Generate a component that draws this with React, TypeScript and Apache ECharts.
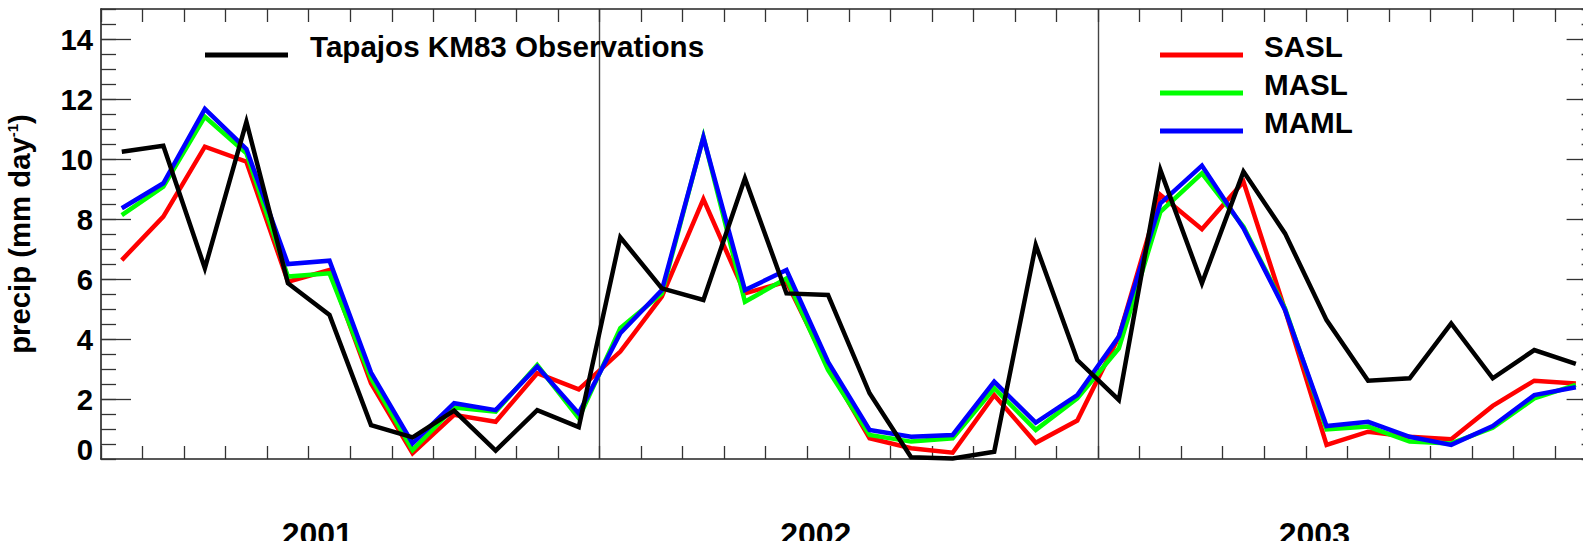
import React, { useEffect, useRef } from 'react';
import * as echarts from 'echarts';

const years = ['2001', '2002', '2003'];
const monthNames = ['Jan', 'Feb', 'Mar', 'Apr', 'May', 'Jun', 'Jul', 'Aug', 'Sep', 'Oct', 'Nov', 'Dec'];
const months = years.flatMap((y) => monthNames.map((m) => `${m} ${y}`));

const obsName = 'Tapajos KM83 Observations';
const modelNames = ['SASL', 'MASL', 'MAML'];

const obs = [10.24, 10.44, 6.36, 11.24, 5.86, 4.8, 1.13, 0.72, 1.61, 0.28, 1.63, 1.06,
  7.39, 5.69, 5.3, 9.36, 5.52, 5.47, 2.19, 0.06, 0.02, 0.24, 7.13, 3.3,
  1.97, 9.63, 5.86, 9.58, 7.52, 4.63, 2.61, 2.69, 4.52, 2.69, 3.63, 3.17];
const sasl = [6.63, 8.08, 10.41, 9.91, 5.91, 6.3, 2.52, 0.19, 1.47, 1.24, 2.86, 2.32,
  3.58, 5.41, 8.66, 5.52, 5.91, 3.08, 0.69, 0.36, 0.21, 2.13, 0.54, 1.28,
  4.08, 8.8, 7.66, 9.24, 4.97, 0.47, 0.91, 0.74, 0.66, 1.77, 2.61, 2.52];
const masl = [8.13, 9.08, 11.41, 10.19, 6.08, 6.19, 2.69, 0.3, 1.72, 1.58, 3.13, 1.36,
  4.36, 5.52, 10.74, 5.24, 6.02, 2.97, 0.8, 0.58, 0.69, 2.36, 0.97, 2.02,
  3.69, 8.24, 9.52, 7.74, 5.02, 0.99, 1.08, 0.58, 0.52, 1.04, 2.02, 2.47];
const maml = [8.36, 9.19, 11.67, 10.33, 6.5, 6.61, 2.88, 0.52, 1.86, 1.63, 3.08, 1.52,
  4.19, 5.63, 10.72, 5.63, 6.3, 3.24, 0.97, 0.74, 0.8, 2.58, 1.21, 2.13,
  4.08, 8.52, 9.78, 7.69, 4.97, 1.1, 1.24, 0.74, 0.47, 1.1, 2.13, 2.39];

const yMajorTicks = [2, 4, 6, 8, 10, 12, 14];
const yTickLabels = [0, 2, 4, 6, 8, 10, 12, 14];

const FONT = '"Liberation Sans", Arial, Helvetica, sans-serif';
const AXIS_COLOR = '#222';
const TICK_COLOR = '#333';
// legend icon: a thick line drawn in the lower part of the icon box, so the text sits above it
const LEGEND_ICON = 'path://M0,0 L83,0 L83,0.01 L0,0.01 Z M0,17 L83,17 L83,22 L0,22 Z';

export default function App() {
  const ref = useRef<HTMLDivElement>(null);

  useEffect(() => {
    if (!ref.current) return;
    const chart = echarts.init(ref.current, undefined, { renderer: 'svg' });

    const tickStyle = { color: TICK_COLOR, width: 1.3 };
    const lineAxis = { show: true, onZero: false, lineStyle: { color: AXIS_COLOR, width: 1.6 } };
    const yBase = { type: 'value', min: 0, max: 15, splitLine: { show: false } };
    const boldText = { fontFamily: FONT, fontWeight: 'bold', color: '#000' };

    const mkSeries = (name: string, data: number[], color: string) => ({
      name,
      type: 'line',
      data,
      xAxisIndex: 0,
      yAxisIndex: 0,
      symbol: 'none',
      color,
      lineStyle: { color, width: 4.5, join: 'miter', cap: 'butt' },
    });

    const legendBase = {
      orient: 'vertical',
      icon: LEGEND_ICON,
      itemWidth: 83,
      itemHeight: 22,
      itemGap: 8,
      padding: 0,
      selectedMode: false,
      top: 31.5,
    };

    chart.setOption({
      animation: false,
      backgroundColor: '#ffffff',
      grid: { left: 101, top: 9, right: -13.6, bottom: 82, outerBoundsMode: 'none', containLabel: false },
      legend: [
        {
          ...legendBase,
          data: [obsName],
          left: 205,
          textStyle: { ...boldText, fontSize: 29.6, padding: [0, 0, 0, 17] },
        },
        {
          ...legendBase,
          data: modelNames,
          left: 1160,
          textStyle: { ...boldText, fontSize: 29.6, padding: [0, 0, 0, 16] },
        },
      ],
      xAxis: [
        {
          type: 'category',
          data: months,
          position: 'bottom',
          boundaryGap: true,
          axisLine: lineAxis,
          axisTick: { show: true, inside: true, length: 13, interval: 0, lineStyle: tickStyle },
          axisLabel: { show: false },
          splitLine: {
            show: true,
            interval: (i: number) => i > 0 && i % 12 === 0,
            lineStyle: { color: '#444', width: 1.4 },
          },
        },
        {
          type: 'category',
          data: months,
          position: 'top',
          boundaryGap: true,
          axisLine: lineAxis,
          axisTick: { show: true, inside: true, length: 13, interval: 0, lineStyle: tickStyle },
          axisLabel: { show: false },
          splitLine: { show: false },
        },
        {
          type: 'category',
          data: years,
          position: 'bottom',
          boundaryGap: true,
          axisLine: { show: false, onZero: false },
          axisTick: { show: false },
          axisLabel: { ...boldText, fontSize: 32, margin: 59, interval: 0, padding: [0, 66, 0, 0] },
          splitLine: { show: false },
        },
      ],
      yAxis: [
        {
          ...yBase,
          position: 'left',
          axisLine: lineAxis,
          axisTick: { show: true, inside: true, length: 30, customValues: yMajorTicks, lineStyle: tickStyle },
          axisLabel: {
            ...boldText,
            fontSize: 29.3,
            margin: 8,
            customValues: yTickLabels,
            formatter: (v: number) => (v === 0 ? '{zero|0}' : String(v)),
            rich: { zero: { ...boldText, fontSize: 29.3, padding: [0, 0, 20, 0] } },
          },
          name: 'precip (mm day{sup|-1})',
          nameLocation: 'middle',
          nameRotate: 90,
          nameGap: 67,
          nameTextStyle: {
            ...boldText,
            fontSize: 29.3,
            rich: { sup: { ...boldText, fontSize: 15, verticalAlign: 'top', lineHeight: 15 } },
          },
        },
        {
          ...yBase,
          position: 'left',
          interval: 0.5,
          axisLine: { show: false, onZero: false },
          axisTick: { show: true, inside: true, length: 15, lineStyle: tickStyle },
          axisLabel: { show: false },
        },
        {
          ...yBase,
          position: 'right',
          axisLine: lineAxis,
          axisTick: { show: true, inside: true, length: 30, customValues: yMajorTicks, lineStyle: tickStyle },
          axisLabel: { show: false },
        },
        {
          ...yBase,
          position: 'right',
          interval: 0.5,
          axisLine: { show: false, onZero: false },
          axisTick: { show: true, inside: true, length: 15, lineStyle: tickStyle },
          axisLabel: { show: false },
        },
      ],
      series: [
        mkSeries(modelNames[0], sasl, '#ff0000'),
        mkSeries(modelNames[1], masl, '#00ff00'),
        mkSeries(modelNames[2], maml, '#0000ff'),
        mkSeries(obsName, obs, '#000000'),
      ],
    });

    return () => chart.dispose();
  }, []);

  return (
    <div
      ref={ref}
      style={{ position: 'fixed', left: 0, top: 0, width: 1583, height: 541, background: '#fff' }}
    />
  );
}
